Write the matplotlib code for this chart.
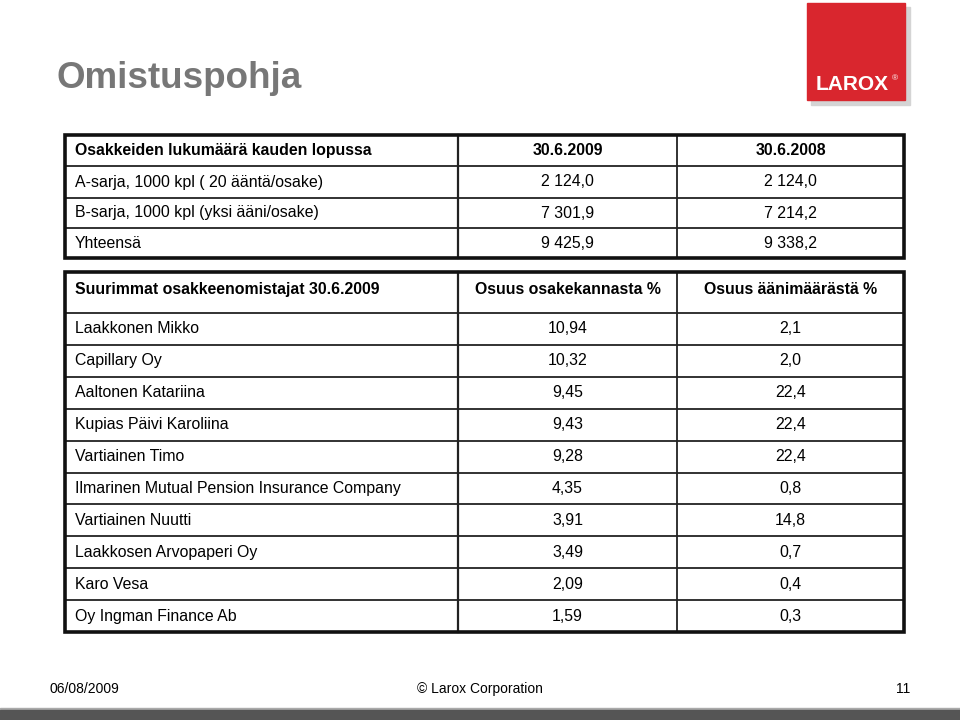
import matplotlib.pyplot as plt
from matplotlib.patches import Rectangle

plt.rcParams['font.family'] = ['Liberation Sans', 'DejaVu Sans']

# ======================
# DATA
# ======================
title = "Omistuspohja"

t1_header = ["Osakkeiden lukumäärä kauden lopussa", "30.6.2009", "30.6.2008"]
t1_labels = ["A-sarja, 1000 kpl ( 20 ääntä/osake)", "B-sarja, 1000 kpl (yksi ääni/osake)", "Yhteensä"]
t1_2009 = ["2 124,0", "7 301,9", "9 425,9"]
t1_2008 = ["2 124,0", "7 214,2", "9 338,2"]

t2_header = ["Suurimmat osakkeenomistajat 30.6.2009", "Osuus osakekannasta %", "Osuus äänimäärästä %"]
owners = ["Laakkonen Mikko", "Capillary Oy", "Aaltonen Katariina", "Kupias Päivi Karoliina",
          "Vartiainen Timo", "Ilmarinen Mutual Pension Insurance Company", "Vartiainen Nuutti",
          "Laakkosen Arvopaperi Oy", "Karo Vesa", "Oy Ingman Finance Ab"]
share_pct = ["10,94", "10,32", "9,45", "9,43", "9,28", "4,35", "3,91", "3,49", "2,09", "1,59"]
vote_pct = ["2,1", "2,0", "22,4", "22,4", "22,4", "0,8", "14,8", "0,7", "0,4", "0,3"]

footer_date = "06/08/2009"
footer_copy = "© Larox Corporation"
page_no = "11"

# ======================
# LAYOUT (pixel space)
# ======================
fig = plt.figure(figsize=(9.6, 7.2), dpi=100)
ax = fig.add_axes([0, 0, 1, 1])
ax.set_xlim(0, 960)
ax.set_ylim(720, 0)
ax.axis("off")

x0, xa, xb, x1 = 65, 458, 677, 904
cx2, cx3 = (xa + xb) / 2, (xb + x1) / 2
fs = 11.4


def draw_table(top, row_edges, header, rows, header_dy=0):
    bottom = row_edges[-1]
    # outer frame
    ax.add_patch(Rectangle((x0, top), x1 - x0, bottom - top, fill=False, lw=2.6,
                           ec="#111111", zorder=3))
    for y in row_edges[:-1]:
        ax.plot([x0, x1], [y, y], color="#222222", lw=1.3, zorder=2)
    ax.plot([xa, xa], [top, bottom], color="#222222", lw=1.6, zorder=2)
    ax.plot([xb, xb], [top, bottom], color="#222222", lw=1.3, zorder=2)
    ys = [top] + list(row_edges)
    hy = (ys[0] + ys[1]) / 2 + header_dy
    ax.text(x0 + 10, hy, header[0], fontsize=fs, fontweight="bold", va="center", ha="left")
    ax.text(cx2, hy, header[1], fontsize=fs, fontweight="bold", va="center", ha="center")
    ax.text(cx3, hy, header[2], fontsize=fs, fontweight="bold", va="center", ha="center")
    for i, (lab, a, b) in enumerate(rows):
        y = (ys[i + 1] + ys[i + 2]) / 2
        ax.text(x0 + 10, y, lab, fontsize=fs, va="center", ha="left")
        ax.text(cx2, y, a, fontsize=fs, va="center", ha="center")
        ax.text(cx3, y, b, fontsize=fs, va="center", ha="center")


# title
ax.text(57, 78, title, fontsize=26.5, fontweight="bold", color="#777777", va="center", ha="left")

# logo
ax.add_patch(Rectangle((811, 7), 99, 98, color="#d4d4d4", zorder=1))
ax.add_patch(Rectangle((807, 3), 98, 97, color="#d9262e", zorder=2))
ax.text(852, 85, "LAROX", fontsize=15, fontweight="bold", color="white", ha="center", va="center",
        zorder=3)
ax.text(895, 79, "®", fontsize=6, color="white", ha="center", va="center", zorder=3)

# table 1
draw_table(135, [166, 198, 228, 258], t1_header, list(zip(t1_labels, t1_2009, t1_2008)))

# table 2
edges2 = [313 + 31.9 * i for i in range(11)]
draw_table(272, edges2, t2_header, list(zip(owners, share_pct, vote_pct)), header_dy=-3)

# footer
ax.text(50, 689, footer_date, fontsize=10, va="center", ha="left")
ax.text(480, 689, footer_copy, fontsize=10, va="center", ha="center")
ax.text(910, 689, page_no, fontsize=10, va="center", ha="right")
ax.add_patch(Rectangle((0, 708), 960, 1.5, color="#aaaaaa", zorder=1))
ax.add_patch(Rectangle((0, 709.5), 960, 11, color="#555555", zorder=1))

fig.savefig("out.png", dpi=100)
